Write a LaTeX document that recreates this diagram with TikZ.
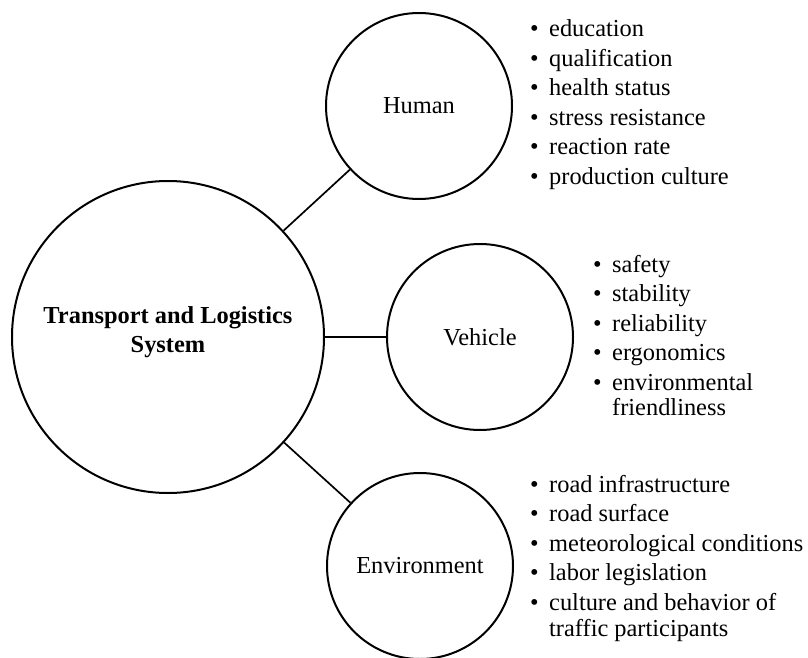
\documentclass[tikz,border=0pt]{standalone}
\usepackage{fontspec}
\setmainfont{Liberation Serif}
\newcommand{\itm}{\llap{\textbullet\hspace{10.5pt}}}

\begin{document}
\begin{tikzpicture}[
    x=1pt, y=-1pt,
    hub/.style={circle, draw=black, line width=2pt, minimum size=312pt, inner sep=0pt},
    part/.style={circle, draw=black, line width=2pt, minimum size=186pt, inner sep=0pt,
        font=\fontsize{24.4}{29.5}\selectfont},
    hubtext/.style={align=center, inner sep=0pt, font=\fontsize{24.4}{29.5}\selectfont\bfseries},
    list/.style={anchor=base west, inner sep=0pt, font=\fontsize{24.4}{29.5}\selectfont},
    edge/.style={line width=1.7pt, -}
]
    \useasboundingbox (0,0) rectangle (808,658);
    \node[hub] (tls) at (168,337) {};
    \node[hubtext] (tlstext) at (168,332) {Transport and Logistics\\System};
    \node[part] (human) at (419,106) {Human};
    \node[part] (vehicle) at (480,337) {Vehicle};
    \node[part] (env) at (420,566) {Environment};
    \draw[edge] (tls) -- (human);
    \draw[edge] (tls) -- (vehicle);
    \draw[edge] (tls) -- (env);
    \node[list] (hl) at (549,37) {\begin{tabular}[t]{@{}l@{}}
        \itm education\\ \itm qualification\\ \itm health status\\
        \itm stress resistance\\ \itm reaction rate\\ \itm production culture
    \end{tabular}};
    \node[list] (vl) at (612,272) {\begin{tabular}[t]{@{}l@{}}
        \itm safety\\ \itm stability\\ \itm reliability\\ \itm ergonomics\\
        \itm environmental\\[-4pt] friendliness
    \end{tabular}};
    \node[list] (el) at (549,492) {\begin{tabular}[t]{@{}l@{}}
        \itm road infrastructure\\ \itm road surface\\ \itm meteorological conditions\\
        \itm labor legislation\\ \itm culture and behavior of\\[-3pt] traffic participants
    \end{tabular}};
\end{tikzpicture}
\end{document}
